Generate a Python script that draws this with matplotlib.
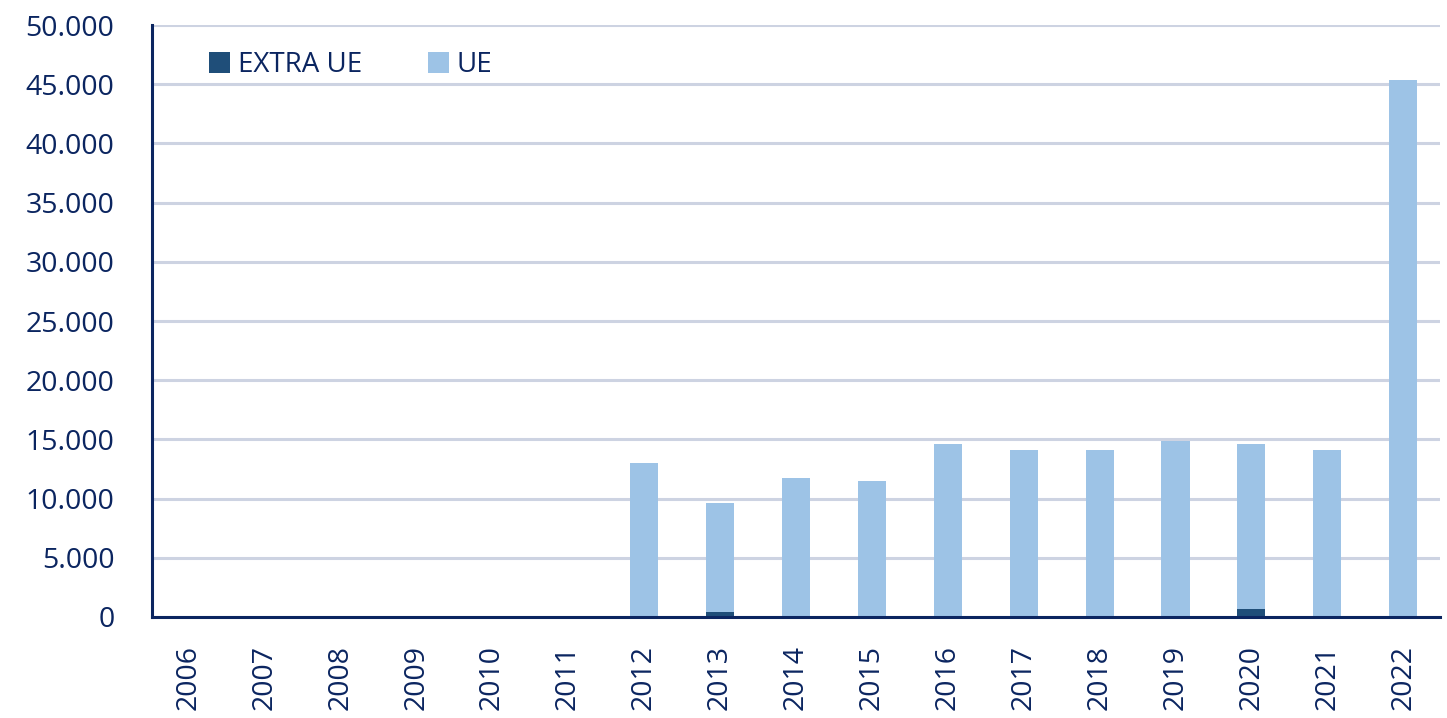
import numpy as np
import matplotlib.pyplot as plt
from matplotlib.ticker import FuncFormatter, MultipleLocator

# =========================
# DATA
# =========================
years = [str(y) for y in range(2006, 2023)]
extra_ue = [0, 0, 0, 0, 0, 0, 0, 400, 0, 0, 0, 0, 0, 0, 650, 0, 0]
ue_total = [0, 0, 0, 0, 0, 0, 13050, 9650, 11750, 11450, 14600, 14100, 14100, 14900, 14600, 14100, 45400]
ue = [t - e for t, e in zip(ue_total, extra_ue)]

# =========================
# STYLE
# =========================
plt.rcParams['font.family'] = ['Open Sans', 'DejaVu Sans']
navy = "#0B2560"
dark_blue = "#1F4E79"
light_blue = "#9DC3E6"
grid_col = "#CDD3E2"

fig = plt.figure(figsize=(14.47, 7.18), dpi=100)
ax = fig.add_axes([0.105, 0.1407, 0.89, 0.8243])

x = np.arange(len(years))
w = 0.37
ax.bar(x, extra_ue, w, color=dark_blue, label="EXTRA UE", zorder=3)
ax.bar(x, ue, w, bottom=extra_ue, color=light_blue, label="UE", zorder=3)

# =========================
# AXES
# =========================
ax.set_xlim(-0.48, len(years) - 0.52)
ax.set_ylim(0, 50000)
ax.yaxis.set_major_locator(MultipleLocator(5000))
ax.yaxis.set_major_formatter(FuncFormatter(lambda v, p: f"{int(v):,}".replace(",", ".")))
ax.set_xticks(x)
ax.set_xticklabels(years, rotation=90)
ax.tick_params(axis="y", length=0, pad=27, labelsize=20.5, labelcolor=navy)
ax.tick_params(axis="x", length=0, pad=20, labelsize=20.5, labelcolor=navy)

ax.grid(axis="y", color=grid_col, linewidth=2.2, zorder=0)
for s in ["top", "right"]:
    ax.spines[s].set_visible(False)
for s in ["left", "bottom"]:
    ax.spines[s].set_color(navy)
    ax.spines[s].set_linewidth(2.2)
    ax.spines[s].set_zorder(4)

leg = ax.legend(loc="upper left", bbox_to_anchor=(0.025, 0.998), ncol=2, frameon=False,
                fontsize=20, handlelength=0.75, handleheight=0.75, handletextpad=0.3,
                columnspacing=2.35, labelcolor=navy)

fig.savefig("out.png", dpi=100)
